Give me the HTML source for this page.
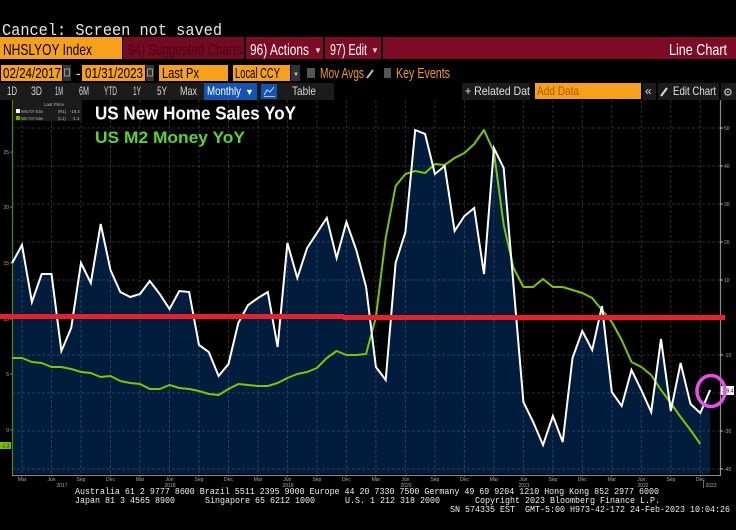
<!DOCTYPE html>
<html>
<head>
<meta charset="utf-8">
<style>
html,body{margin:0;padding:0;background:#000;}
body{width:736px;height:530px;overflow:hidden;}
svg{display:block;}
</style>
</head>
<body>
<svg width="736" height="530" viewBox="0 0 736 530" xmlns="http://www.w3.org/2000/svg">
<rect x="0" y="0" width="736" height="530" fill="#000"/>

<!-- top message -->
<text x="2" y="35" font-family="Liberation Mono, monospace" font-size="17" fill="#e6e6e6" textLength="220" lengthAdjust="spacingAndGlyphs">Cancel: Screen not saved</text>

<!-- Row 1 -->
<rect x="0" y="37" width="122" height="22" fill="#f7a11a"/>
<text x="3" y="55" font-family="Liberation Sans, sans-serif" font-size="16" fill="#000" textLength="89" lengthAdjust="spacingAndGlyphs">NHSLYOY Index</text>
<rect x="123" y="37" width="613" height="22" fill="#7e0b25"/>
<rect x="123" y="37" width="121" height="22" fill="#760a22"/>
<rect x="244" y="37" width="2" height="22" fill="#000"/>
<rect x="323" y="37" width="2" height="22" fill="#000"/>
<rect x="381" y="37" width="2" height="22" fill="#000"/>
<text x="128" y="55" font-family="Liberation Sans, sans-serif" font-size="16" fill="#4a0614" textLength="114" lengthAdjust="spacingAndGlyphs">94) Suggested Charts</text>
<text x="250" y="55" font-family="Liberation Sans, sans-serif" font-size="16" fill="#fff" textLength="59" lengthAdjust="spacingAndGlyphs">96) Actions</text>
<text x="314" y="53" font-family="Liberation Sans, sans-serif" font-size="8" fill="#ddd">▼</text>
<text x="330" y="55" font-family="Liberation Sans, sans-serif" font-size="16" fill="#fff" textLength="37" lengthAdjust="spacingAndGlyphs">97) Edit</text>
<text x="371" y="53" font-family="Liberation Sans, sans-serif" font-size="8" fill="#ddd">▼</text>
<text x="669" y="55" font-family="Liberation Sans, sans-serif" font-size="16" fill="#fff" textLength="58" lengthAdjust="spacingAndGlyphs">Line Chart</text>

<!-- Row 2 -->
<rect x="1" y="65" width="61" height="16" fill="#f7a11a"/>
<text x="3" y="78" font-family="Liberation Sans, sans-serif" font-size="15" fill="#000" textLength="58" lengthAdjust="spacingAndGlyphs">02/24/2017</text>
<rect x="63" y="65" width="8" height="16" fill="#333"/>
<rect x="64.5" y="69" width="5" height="7" fill="none" stroke="#999" stroke-width="1"/>
<text x="76" y="78" font-family="Liberation Sans, sans-serif" font-size="14" fill="#ddd">-</text>
<rect x="82" y="65" width="63" height="16" fill="#f7a11a"/>
<text x="85" y="78" font-family="Liberation Sans, sans-serif" font-size="15" fill="#000" textLength="58" lengthAdjust="spacingAndGlyphs">01/31/2023</text>
<rect x="146" y="65" width="8" height="16" fill="#333"/>
<rect x="147.5" y="69" width="5" height="7" fill="none" stroke="#999" stroke-width="1"/>
<rect x="159" y="65" width="69" height="16" fill="#f7a11a"/>
<text x="162" y="78" font-family="Liberation Sans, sans-serif" font-size="15" fill="#000" textLength="37" lengthAdjust="spacingAndGlyphs">Last Px</text>
<rect x="233" y="65" width="57" height="16" fill="#f7a11a"/>
<text x="235" y="78" font-family="Liberation Sans, sans-serif" font-size="15" fill="#000" textLength="45" lengthAdjust="spacingAndGlyphs">Local CCY</text>
<rect x="291" y="65" width="9" height="16" fill="#333"/>
<text x="293" y="76" font-family="Liberation Sans, sans-serif" font-size="6" fill="#ccc">▼</text>
<rect x="307" y="68" width="8" height="10" fill="#555"/>
<text x="320" y="78" font-family="Liberation Sans, sans-serif" font-size="15" fill="#f39c12" textLength="44" lengthAdjust="spacingAndGlyphs">Mov Avgs</text>
<line x1="367" y1="78" x2="373" y2="70" stroke="#bbb" stroke-width="2"/>
<rect x="384" y="68" width="7" height="10" fill="#555"/>
<text x="396" y="78" font-family="Liberation Sans, sans-serif" font-size="15" fill="#f39c12" textLength="54" lengthAdjust="spacingAndGlyphs">Key Events</text>

<!-- Row 3 -->
<rect x="0" y="83" width="334" height="17" fill="#1b1b1b"/>
<g font-family="Liberation Sans, sans-serif" font-size="12" fill="#d8d8d8">
<text x="7" y="95" textLength="10" lengthAdjust="spacingAndGlyphs">1D</text>
<text x="31" y="95" textLength="11" lengthAdjust="spacingAndGlyphs">3D</text>
<text x="55" y="95" textLength="8" lengthAdjust="spacingAndGlyphs">1M</text>
<text x="79" y="95" textLength="10" lengthAdjust="spacingAndGlyphs">6M</text>
<text x="104" y="95" textLength="13" lengthAdjust="spacingAndGlyphs">YTD</text>
<text x="133" y="95" textLength="8" lengthAdjust="spacingAndGlyphs">1Y</text>
<text x="157" y="95" textLength="10" lengthAdjust="spacingAndGlyphs">5Y</text>
<text x="180" y="95" textLength="17" lengthAdjust="spacingAndGlyphs">Max</text>
</g>
<rect x="204" y="83" width="53" height="17" fill="#1553b0"/>
<text x="207" y="95" font-family="Liberation Sans, sans-serif" font-size="12" fill="#fff" textLength="34" lengthAdjust="spacingAndGlyphs">Monthly</text>
<text x="245" y="95" font-family="Liberation Sans, sans-serif" font-size="9" fill="#fff">▼</text>
<rect x="261" y="84" width="16" height="15" fill="#1553b0"/>
<polyline points="264,95 267,90 270,92 274,87" fill="none" stroke="#cfe0ff" stroke-width="1"/>
<line x1="264" y1="96.5" x2="275" y2="96.5" stroke="#cfe0ff" stroke-width="0.8"/>
<text x="292" y="95" font-family="Liberation Sans, sans-serif" font-size="12" fill="#d8d8d8" textLength="24" lengthAdjust="spacingAndGlyphs">Table</text>

<rect x="462" y="83" width="68" height="17" fill="#1b1b1b"/>
<text x="465" y="95" font-family="Liberation Sans, sans-serif" font-size="12" fill="#e0e0e0" textLength="65" lengthAdjust="spacingAndGlyphs">+ Related Dat</text>
<rect x="535" y="83" width="106" height="16" fill="#f7a11a"/>
<text x="537" y="95" font-family="Liberation Sans, sans-serif" font-size="12" fill="#a85a00" textLength="42" lengthAdjust="spacingAndGlyphs">Add Data</text>
<rect x="643" y="83" width="13" height="17" fill="#1b1b1b"/>
<text x="645" y="95" font-family="Liberation Sans, sans-serif" font-size="12" fill="#ddd">«</text>
<rect x="658" y="83" width="61" height="17" fill="#1b1b1b"/>
<line x1="661" y1="96" x2="667" y2="88" stroke="#ddd" stroke-width="2"/>
<text x="673" y="95" font-family="Liberation Sans, sans-serif" font-size="12" fill="#e0e0e0" textLength="43" lengthAdjust="spacingAndGlyphs">Edit Chart</text>
<rect x="721" y="83" width="15" height="17" fill="#1b1b1b"/>
<text x="723" y="96" font-family="DejaVu Sans, sans-serif" font-size="11" fill="#ccc">⚙</text>

<!-- Plot fill -->
<polygon fill="#021c3e" points="12.2,474 12.2,263 22,245 31.9,302 41.7,274 51.5,274 61.4,351 71.2,328 81,263 90.8,283 100.7,224 110.5,270 120.3,292 130.2,297 140,294 149.8,281 159.7,294 169.5,309 179.3,291 189.1,292 199,345 208.8,352 218.6,376 228.5,364 238.3,323 248.1,305 258,298 267.8,292 277.6,347 287.4,243 297.3,278 307.1,248 316.9,233 326.8,218 336.6,258 346.4,222 356.3,250 366.1,287 375.9,367 385.7,380 395.6,263 405.4,232 415.2,130 425.1,134 434.9,174 444.7,166 454.6,231 464.4,216 474.2,208 484,274 493.9,148 503.7,168 513.5,285 523.4,402 533.2,422 543,445 552.9,416 562.7,442 572.5,358 582.3,331 592.2,350 602,306 611.8,392 621.7,406 631.5,370 641.3,390 651.2,412 661,339 670.8,411 680.6,363 690.5,404 700.3,413 710.1,390 710.1,474"/>

<!-- Grid -->
<g stroke="rgba(150,150,150,0.3)" stroke-width="1" stroke-dasharray="3,2" fill="none">
<line x1="12" y1="128" x2="720" y2="128"/>
<line x1="12" y1="166" x2="720" y2="166"/>
<line x1="12" y1="204" x2="720" y2="204"/>
<line x1="12" y1="242" x2="720" y2="242"/>
<line x1="12" y1="280" x2="720" y2="280"/>
<line x1="12" y1="355" x2="720" y2="355"/>
<line x1="12" y1="393" x2="720" y2="393"/>
<line x1="12" y1="431" x2="720" y2="431"/>
<line x1="12" y1="469" x2="720" y2="469"/>
<line x1="22" y1="100" x2="22" y2="475"/>
<line x1="51.5" y1="100" x2="51.5" y2="475"/>
<line x1="81" y1="100" x2="81" y2="475"/>
<line x1="110.5" y1="100" x2="110.5" y2="475"/>
<line x1="140" y1="100" x2="140" y2="475"/>
<line x1="169.5" y1="100" x2="169.5" y2="475"/>
<line x1="199" y1="100" x2="199" y2="475"/>
<line x1="228.5" y1="100" x2="228.5" y2="475"/>
<line x1="258" y1="100" x2="258" y2="475"/>
<line x1="287.4" y1="100" x2="287.4" y2="475"/>
<line x1="316.9" y1="100" x2="316.9" y2="475"/>
<line x1="346.4" y1="100" x2="346.4" y2="475"/>
<line x1="375.9" y1="100" x2="375.9" y2="475"/>
<line x1="405.4" y1="100" x2="405.4" y2="475"/>
<line x1="434.9" y1="100" x2="434.9" y2="475"/>
<line x1="464.4" y1="100" x2="464.4" y2="475"/>
<line x1="493.9" y1="100" x2="493.9" y2="475"/>
<line x1="523.4" y1="100" x2="523.4" y2="475"/>
<line x1="552.9" y1="100" x2="552.9" y2="475"/>
<line x1="582.3" y1="100" x2="582.3" y2="475"/>
<line x1="611.8" y1="100" x2="611.8" y2="475"/>
<line x1="641.3" y1="100" x2="641.3" y2="475"/>
<line x1="670.8" y1="100" x2="670.8" y2="475"/>
<line x1="700.3" y1="100" x2="700.3" y2="475"/>
</g>

<!-- Axes -->
<line x1="12.5" y1="100" x2="12.5" y2="476" stroke="#4f8a00" stroke-width="1.2"/>
<line x1="720.5" y1="100" x2="720.5" y2="476" stroke="#8a8a8a" stroke-width="1.2"/>
<line x1="12" y1="475.5" x2="721" y2="475.5" stroke="#8a8a8a" stroke-width="1"/>

<!-- Left axis ticks & labels -->
<g font-family="Liberation Sans, sans-serif" font-size="5" fill="#aaa" text-anchor="end">
<text x="9" y="154">25</text>
<text x="9" y="209">20</text>
<text x="9" y="265">15</text>
<text x="9" y="321">10</text>
<text x="9" y="376">5</text>
<text x="9" y="432">0</text>
</g>
<g stroke="#6aa800" stroke-width="1">
<line x1="10" y1="152" x2="12" y2="152"/>
<line x1="10" y1="207" x2="12" y2="207"/>
<line x1="10" y1="263" x2="12" y2="263"/>
<line x1="10" y1="319" x2="12" y2="319"/>
<line x1="10" y1="374" x2="12" y2="374"/>
<line x1="10" y1="430" x2="12" y2="430"/>
</g>
<rect x="0" y="442" width="11" height="7" fill="#76c000"/>
<text x="1" y="447.5" font-family="Liberation Sans, sans-serif" font-size="5" fill="#0a2a00">-1.3</text>

<!-- Right axis labels -->
<g font-family="Liberation Sans, sans-serif" font-size="5" fill="#aaa">
<text x="724" y="130">50</text>
<text x="724" y="168">40</text>
<text x="724" y="206">30</text>
<text x="724" y="244">20</text>
<text x="724" y="282">10</text>
<text x="724" y="357">-10</text>
<text x="724" y="395">-20</text>
<text x="724" y="433">-30</text>
<text x="724" y="471">-40</text>
</g>
<g stroke="#bbb" stroke-width="1">
<line x1="720" y1="128" x2="723" y2="128"/>
<line x1="720" y1="166" x2="723" y2="166"/>
<line x1="720" y1="204" x2="723" y2="204"/>
<line x1="720" y1="242" x2="723" y2="242"/>
<line x1="720" y1="280" x2="723" y2="280"/>
<line x1="720" y1="355" x2="723" y2="355"/>
<line x1="720" y1="393" x2="723" y2="393"/>
<line x1="720" y1="431" x2="723" y2="431"/>
<line x1="720" y1="469" x2="723" y2="469"/>
</g>

<!-- X axis labels -->
<g font-family="Liberation Sans, sans-serif" font-size="5" fill="#aaa" text-anchor="middle">
<text x="22" y="481">Mar</text><text x="51.5" y="481">Jun</text><text x="81" y="481">Sep</text><text x="110.5" y="481">Dec</text>
<text x="140" y="481">Mar</text><text x="169.5" y="481">Jun</text><text x="199" y="481">Sep</text><text x="228.5" y="481">Dec</text>
<text x="258" y="481">Mar</text><text x="287.4" y="481">Jun</text><text x="316.9" y="481">Sep</text><text x="346.4" y="481">Dec</text>
<text x="375.9" y="481">Mar</text><text x="405.4" y="481">Jun</text><text x="434.9" y="481">Sep</text><text x="464.4" y="481">Dec</text>
<text x="493.9" y="481">Mar</text><text x="523.4" y="481">Jun</text><text x="552.9" y="481">Sep</text><text x="582.3" y="481">Dec</text>
<text x="611.8" y="481">Mar</text><text x="641.3" y="481">Jun</text><text x="670.8" y="481">Sep</text><text x="700.3" y="481">Dec</text>
<text x="62" y="487">2017</text>
<text x="170" y="487">2018</text>
<text x="288" y="487">2019</text>
<text x="406" y="487">2020</text>
<text x="524" y="487">2021</text>
<text x="643" y="487">2022</text>
<text x="711" y="487">2023</text>
</g>
<line x1="703.5" y1="480" x2="703.5" y2="488" stroke="#888" stroke-width="0.8"/>
<g stroke="#888" stroke-width="0.8">
<line x1="22" y1="475" x2="22" y2="477"/><line x1="51.5" y1="475" x2="51.5" y2="477"/><line x1="81" y1="475" x2="81" y2="477"/><line x1="110.5" y1="475" x2="110.5" y2="477"/>
<line x1="140" y1="475" x2="140" y2="477"/><line x1="169.5" y1="475" x2="169.5" y2="477"/><line x1="199" y1="475" x2="199" y2="477"/><line x1="228.5" y1="475" x2="228.5" y2="477"/>
<line x1="258" y1="475" x2="258" y2="477"/><line x1="287.4" y1="475" x2="287.4" y2="477"/><line x1="316.9" y1="475" x2="316.9" y2="477"/><line x1="346.4" y1="475" x2="346.4" y2="477"/>
<line x1="375.9" y1="475" x2="375.9" y2="477"/><line x1="405.4" y1="475" x2="405.4" y2="477"/><line x1="434.9" y1="475" x2="434.9" y2="477"/><line x1="464.4" y1="475" x2="464.4" y2="477"/>
<line x1="493.9" y1="475" x2="493.9" y2="477"/><line x1="523.4" y1="475" x2="523.4" y2="477"/><line x1="552.9" y1="475" x2="552.9" y2="477"/><line x1="582.3" y1="475" x2="582.3" y2="477"/>
<line x1="611.8" y1="475" x2="611.8" y2="477"/><line x1="641.3" y1="475" x2="641.3" y2="477"/><line x1="670.8" y1="475" x2="670.8" y2="477"/><line x1="700.3" y1="475" x2="700.3" y2="477"/>
</g>

<!-- Green M2 line -->
<polyline fill="none" stroke="#78c800" stroke-width="2" stroke-linejoin="round" points="12.2,358 22,358 31.9,362 41.7,363 51.5,367 61.4,367 71.2,369 81,372 90.8,373 100.7,377 110.5,376 120.3,381 130.2,383 140,384 149.8,389 159.7,389 169.5,385 179.3,388 189.1,389 199,391 208.8,394 218.6,395 228.5,389 238.3,384 248.1,385 258,386 267.8,386 277.6,383 287.4,378 297.3,374 307.1,372 316.9,368 326.8,358 336.6,351 346.4,355 356.3,355 366.1,354 375.9,317 385.7,238 395.6,186 405.4,174 415.2,171 425.1,173 434.9,164 444.7,165 454.6,158 464.4,153 474.2,144 484,130 493.9,152 503.7,225 513.5,268 523.4,287 533.2,287 543,279 552.9,287 562.7,287 572.5,290 582.3,293 592.2,298 602,310 611.8,322 621.7,340 631.5,362 641.3,367 651.2,375 661,390 670.8,403 680.6,417 690.5,430 700.3,444"/>

<!-- White NHS line -->
<polyline fill="none" stroke="#ffffff" stroke-width="2" stroke-linejoin="miter" points="12.2,263 22,245 31.9,302 41.7,274 51.5,274 61.4,351 71.2,328 81,263 90.8,283 100.7,224 110.5,270 120.3,292 130.2,297 140,294 149.8,281 159.7,294 169.5,309 179.3,291 189.1,292 199,345 208.8,352 218.6,376 228.5,364 238.3,323 248.1,305 258,298 267.8,292 277.6,347 287.4,243 297.3,278 307.1,248 316.9,233 326.8,218 336.6,258 346.4,222 356.3,250 366.1,287 375.9,367 385.7,380 395.6,263 405.4,232 415.2,130 425.1,134 434.9,174 444.7,166 454.6,231 464.4,216 474.2,208 484,274 493.9,148 503.7,168 513.5,285 523.4,402 533.2,422 543,445 552.9,416 562.7,442 572.5,358 582.3,331 592.2,350 602,306 611.8,392 621.7,406 631.5,370 641.3,390 651.2,412 661,339 670.8,411 680.6,363 690.5,404 700.3,413 710.1,390"/>

<!-- Red zero line -->
<rect x="0" y="314" width="344" height="5" fill="#e8202a"/>
<rect x="343" y="315" width="382" height="5" fill="#e8202a"/>

<!-- Last value label -->
<rect x="721" y="386" width="13" height="9" fill="#fff"/>
<text x="722" y="392.5" font-family="Liberation Sans, sans-serif" font-size="5" fill="#000">-19.4</text>

<!-- Pink circle -->
<ellipse cx="711" cy="391" rx="14" ry="15.5" fill="none" stroke="#ea4fea" stroke-width="3.5"/>

<!-- Legend -->
<rect x="13" y="100" width="69" height="21" fill="#1b1b1b"/>
<text x="54" y="106" font-family="Liberation Sans, sans-serif" font-size="4.5" fill="#bbb" text-anchor="middle">Last Price</text>
<rect x="16" y="109" width="4" height="4" fill="#fff"/>
<rect x="16" y="116" width="4" height="4" fill="#6cb800"/>
<g font-family="Liberation Sans, sans-serif" font-size="4.3" fill="#bbb">
<text x="21" y="113" textLength="22" lengthAdjust="spacingAndGlyphs">NHSLYOY Index</text>
<text x="58" y="113">(R1)</text>
<text x="70" y="113">-19.4</text>
<text x="21" y="120" textLength="22" lengthAdjust="spacingAndGlyphs">M2N YOY Index</text>
<text x="58" y="120">(L1)</text>
<text x="72" y="120">-1.3</text>
</g>

<!-- Titles -->
<text x="95" y="119.5" font-family="Liberation Sans, sans-serif" font-weight="bold" font-size="18" fill="#fff" textLength="201" lengthAdjust="spacingAndGlyphs">US New Home Sales YoY</text>
<text x="95" y="143" font-family="Liberation Sans, sans-serif" font-weight="bold" font-size="17" fill="#5fd22f" textLength="150" lengthAdjust="spacingAndGlyphs">US M2 Money YoY</text>

<!-- Footer -->
<g font-family="Liberation Mono, monospace" font-size="9" fill="#f0f0f0">
<text x="75" y="494" textLength="584" lengthAdjust="spacingAndGlyphs">Australia 61 2 9777 8600 Brazil 5511 2395 9000 Europe 44 20 7330 7500 Germany 49 69 9204 1210 Hong Kong 852 2977 6000</text>
<text x="75" y="503" textLength="100" lengthAdjust="spacingAndGlyphs">Japan 81 3 4565 8900</text>
<text x="205" y="503" textLength="110" lengthAdjust="spacingAndGlyphs">Singapore 65 6212 1000</text>
<text x="345" y="503" textLength="95" lengthAdjust="spacingAndGlyphs">U.S. 1 212 318 2000</text>
<text x="475" y="503" textLength="185" lengthAdjust="spacingAndGlyphs">Copyright 2023 Bloomberg Finance L.P.</text>
<text x="450" y="512" textLength="65" lengthAdjust="spacingAndGlyphs">SN 574335 EST</text>
<text x="525" y="512" textLength="205" lengthAdjust="spacingAndGlyphs">GMT-5:00 H973-42-172 24-Feb-2023 10:04:26</text>
</g>
</svg>
</body>
</html>
